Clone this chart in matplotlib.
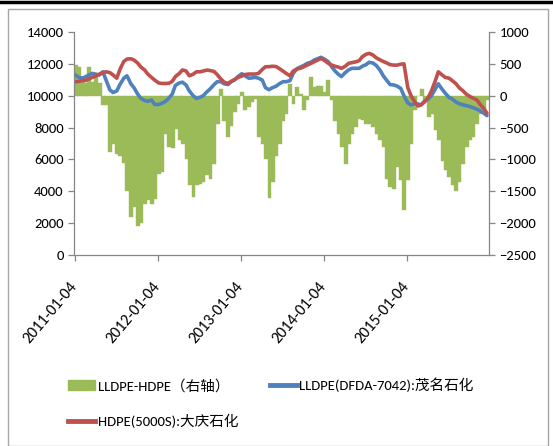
import matplotlib
matplotlib.use("Agg")
import matplotlib.pyplot as plt
from matplotlib import font_manager
from matplotlib.patches import Rectangle
from matplotlib.lines import Line2D
import pandas as pd
import numpy as np

available = set(f.name for f in font_manager.fontManager.ttflist)
base_font = 'Liberation Sans'
for cand in ['Carlito', 'Calibri', 'Liberation Sans Narrow', 'Arial Narrow', 'Roboto Condensed']:
    if cand in available:
        base_font = cand
        break
plt.rcParams['font.family'] = [base_font, 'Noto Sans CJK SC', 'DejaVu Sans']

dates = pd.date_range('2011-01-01', periods=120, freq='SMS')

spread = [480, 450, 250, 200, 450, 220, 300, 200, -150, -150,
          -880, -750, -910, -950, -1050, -1490, -1900, -1750, -2050, -2000,
          -1700, -1640, -1700, -1620, -1225, -1200, -600, -800, -820, -520,
          -700, -750, -1000, -1400, -1590, -1400, -1380, -1360, -1250, -1300,
          -1070, -450, 100, -400, -650, -480, -260, -125, 60, -230,
          -180, -100, -50, -650, -750, -1000, -1600, -1350, -940, -750,
          -390, -280, 190, -125, 135, 30, -230, -70, 290, 135,
          160, 160, 60, 240, -70, -390, -600, -800, -1070, -750,
          -600, -490, -360, -380, -440, -440, -490, -600, -700, -800,
          -1300, -1430, -1460, -1120, -1330, -1800, -1330, -750, -230, 0,
          110, -70, -330, -280, -540, -700, -1020, -1170, -1280, -1400,
          -1490, -1360, -1070, -800, -700, -650, -450, -280, -230, -70]

lldpe = [11300, 11150, 11100, 11200, 11300, 11400, 11350, 11300, 11500, 10980,
         10360, 10200, 10300, 10700, 11100, 11250, 10750, 10500, 10100, 9830,
         9700, 9650, 9730, 9450, 9450, 9520, 9650, 9850, 10100, 10650,
         10800, 10850, 10670, 10300, 10000, 9830, 9900, 10000, 10250, 10430,
         10700, 10880, 10880, 10750, 10700, 10880, 11000, 11200, 11380, 11250,
         11100, 11120, 11150, 11100, 10980, 10500, 10380, 10500, 10600, 10750,
         10880, 10880, 10950, 11400, 11700, 11800, 11900, 12030, 12100, 12240,
         12330, 12410, 12280, 12150, 11800, 11550, 11350, 11200, 11450, 11620,
         11720, 11720, 11720, 11850, 11950, 12100, 12050, 11900, 11600, 11250,
         10950, 10700, 10670, 10600, 10460, 10000, 9550, 9420, 9500, 9480,
         9420, 9650, 9800, 10000, 10400, 10750, 10400, 10150, 9900, 9800,
         9600, 9500, 9420, 9380, 9320, 9250, 9150, 9050, 8900, 8750]

hdpe = [10880, 10900, 10950, 10970, 11050, 11150, 11250, 11350, 11450, 11500,
        11450, 11300, 11100, 11650, 12150, 12300, 12320, 12240, 12050, 11800,
        11610, 11350, 11150, 10980, 10800, 10770, 10770, 10780, 10900, 11200,
        11400, 11620, 11550, 11250, 11350, 11500, 11500, 11550, 11610, 11580,
        11520, 11320, 11050, 10850, 10770, 10900, 11020, 11150, 11230, 11330,
        11360, 11360, 11360, 11400, 11650, 11820, 11820, 11850, 11830, 11700,
        11550, 11400, 11250, 11550, 11680, 11720, 11820, 11920, 12030, 12130,
        12240, 12340, 12200, 12050, 11920, 11850, 11800, 11720, 11850, 12030,
        12080, 12120, 12200, 12450, 12600, 12660, 12550, 12380, 12250, 12150,
        12050, 11950, 11920, 11920, 11980, 12000, 10500, 10000, 9600, 9350,
        9450, 9600, 9900, 10300, 10900, 11500, 11300, 11150, 11100, 10950,
        10750, 10500, 10300, 10100, 9950, 9850, 9730, 9450, 9200, 8900]

tick_labels = ['2011-01-04', '2012-01-04', '2013-01-04', '2014-01-04', '2015-01-04']
legend_labels = ['LLDPE-HDPE（右轴）', 'LLDPE(DFDA-7042):茂名石化', 'HDPE(5000S):大庆石化']

green = '#9BBB59'
blue = '#4F81BD'
red = '#C0504D'
axis_gray = '#868686'

fig = plt.figure(figsize=(5.53, 4.46), dpi=100)
fig.patch.set_facecolor('white')

# outer border and top thick line
fig.patches.append(Rectangle((8/553, 0.0), (548-8)/553, 1 - 9/446, transform=fig.transFigure,
                             fill=False, edgecolor='#A6A6A6', linewidth=1.0))
fig.add_artist(Line2D([0, 1], [1 - 1.5/446, 1 - 1.5/446], transform=fig.transFigure,
                      color='black', linewidth=2.5))

ax = fig.add_axes([74/553, 1 - 255/446, (489-74)/553, (255-32)/446])
ax2 = ax.twinx()

bar_w = 17
ax2.bar(dates, spread, width=bar_w, align='edge', color=green, edgecolor=green, linewidth=0.3)
ax2.set_ylim(-2500, 1000)
ax2.set_yticks(np.arange(-2500, 1001, 500))

ax.plot(dates + pd.Timedelta(days=7), lldpe, color=blue, linewidth=2.6, solid_capstyle='round')
ax.plot(dates + pd.Timedelta(days=7), hdpe, color=red, linewidth=2.6, solid_capstyle='round')
ax.set_ylim(0, 14000)
ax.set_yticks(np.arange(0, 14001, 2000))

ax.set_zorder(ax2.get_zorder() + 1)
ax.patch.set_visible(False)

ax.set_xlim(pd.Timestamp('2011-01-01'), pd.Timestamp('2015-12-31'))
tick_dates = [pd.Timestamp(t) for t in tick_labels]
ax.set_xticks(tick_dates)
ax.set_xticklabels(tick_labels, rotation=50, ha='right', va='center', rotation_mode='anchor', fontsize=11.5)

for a in (ax, ax2):
    a.spines['top'].set_visible(False)
    for s in ('left', 'right', 'bottom'):
        a.spines[s].set_color(axis_gray)
        a.spines[s].set_linewidth(0.9)
    a.tick_params(colors=axis_gray, labelcolor='black', labelsize=10.5, length=4, width=0.9)
ax.spines['right'].set_visible(False)
ax2.spines['left'].set_visible(False)
ax2.spines['bottom'].set_visible(False)
ax.tick_params(axis='x', pad=17, labelsize=11.5)

handles = [Rectangle((0, 0), 1, 1, color=green),
           Line2D([], [], color=red, linewidth=3.5),
           Line2D([], [], color=blue, linewidth=3.5)]
labels = [legend_labels[0], legend_labels[2], legend_labels[1]]
fig.legend(handles, labels, ncol=2, loc='upper left', bbox_to_anchor=(62/553, 1 - 372/446),
           frameon=False, handlelength=1.85, handletextpad=0.2,
           columnspacing=2.15, labelspacing=1.45, borderaxespad=0,
           prop={'family': [base_font, 'Noto Sans CJK SC', 'DejaVu Sans'], 'size': 10.5})

fig.savefig('out.png', dpi=100, facecolor='white')
